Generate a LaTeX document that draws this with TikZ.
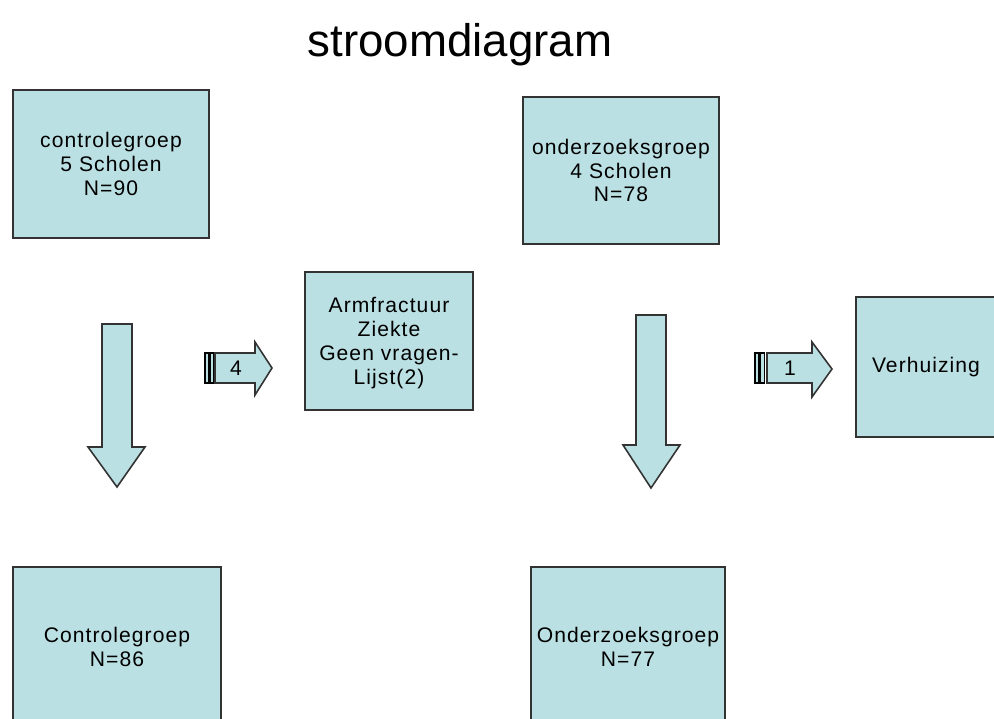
\documentclass[tikz,border=0pt]{standalone}
\usepackage{fontspec}
\setmainfont{Liberation Sans}
\usetikzlibrary{positioning}
\definecolor{lichtblauw}{RGB}{187,224,227}
\newcommand{\vaktekst}{\addfontfeatures{LetterSpace=5}\fontsize{12}{13.6}\selectfont}

\begin{document}
\begin{tikzpicture}[
  x = 0.02cm, y = -0.02cm,
  groep/.style    = {rectangle, draw=black!80, fill=lichtblauw, line width=0.9pt,
                     align=center, font=\vaktekst, inner sep=0pt},
  blokpijl/.style = {draw=black!80, fill=lichtblauw, line width=0.9pt, line join=miter},
  streep/.style   = {draw=black, fill=lichtblauw, line width=0.8pt},
  getal/.style    = {font=\vaktekst, inner sep=0pt}
]
\useasboundingbox (0,0) rectangle (994,718);
\clip (0,0) rectangle (994,718);

\node[font=\fontsize{26}{30}\selectfont] (titel) at (460,45) {stroomdiagram};

\node[groep, minimum width=3.92cm, minimum height=2.96cm] (cg)  at (111,164)
      {controlegroep\\ 5 Scholen\\ N=90};
\node[groep, minimum width=3.92cm, minimum height=2.94cm] (og)  at (621,170.5)
      {onderzoeksgroep\\ 4 Scholen\\ N=78};
\node[groep, minimum width=3.36cm, minimum height=2.76cm, text depth=0pt] (uitval) at (389,341)
      {Armfractuur\\ Ziekte\\ Geen vragen-\\ Lijst(2)};
\node[groep, minimum width=2.8cm, minimum height=2.8cm] (verh) at (926,367)
      {Verhuizing};
\node[groep, minimum width=4.16cm, minimum height=3.2cm] (cgeind) at (117,647)
      {Controlegroep\\ N=86};
\node[groep, minimum width=3.88cm, minimum height=3.2cm] (ogeind) at (628,647)
      {Onderzoeksgroep\\ N=77};

\draw[blokpijl] (102,324) -- (132,324) -- (132,447) -- (145,447) -- (117,487)
                -- (88,447) -- (102,447) -- cycle;
\draw[blokpijl] (636,315) -- (666,315) -- (666,445) -- (680,445) -- (651,488)
                -- (623,445) -- (636,445) -- cycle;

\draw[streep] (205,353) rectangle (208.5,383);
\draw[streep] (210,353) rectangle (213.5,383);
\draw[blokpijl] (215,353) -- (255,353) -- (255,342) -- (272,368) -- (255,395)
                -- (255,383) -- (215,383) -- cycle;
\node[getal] (vier) at (236,368) {4};

\draw[streep] (755,353) rectangle (759,383);
\draw[streep] (760.5,353) rectangle (764.5,383);
\draw[blokpijl] (767,353) -- (812,353) -- (812,342) -- (832,369) -- (812,397)
                -- (812,383) -- (767,383) -- cycle;
\node[getal] (een) at (790,368) {1};

\end{tikzpicture}
\end{document}
